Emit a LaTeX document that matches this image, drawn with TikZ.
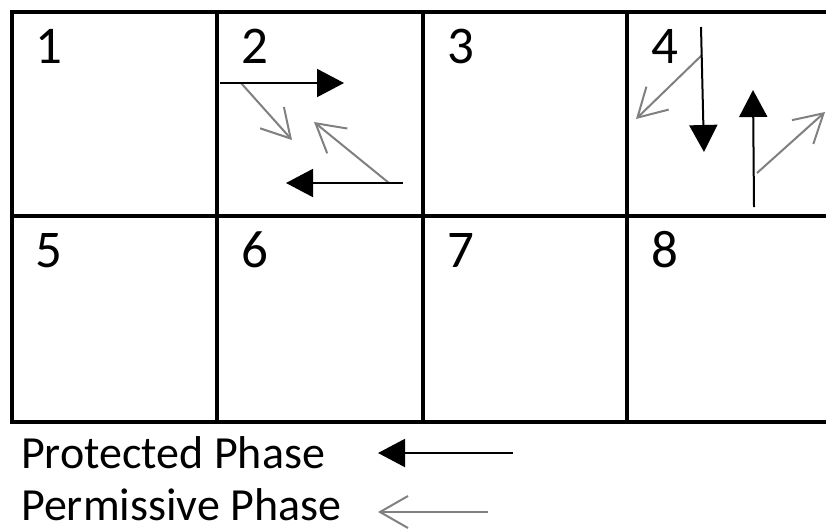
\documentclass[tikz,border=0pt]{standalone}
\usepackage{fontspec}
\setmainfont{Carlito}
\usetikzlibrary{arrows.meta}
\definecolor{permgray}{RGB}{128,128,128}
\tikzset{
  gridline/.style={line width=4pt, line cap=rect},
  protarrow/.style={line width=2pt, black, -{Triangle[length=27pt,width=28pt]}},
  permarrow/.style={line width=2pt, permgray, -{Straight Barb[length=28pt,width=32pt,line width=2pt]}},
  cellnum/.style={anchor=base west, inner sep=0pt, font=\fontsize{53}{53}\selectfont},
  legendtext/.style={anchor=base west, inner sep=0pt, text depth=0pt, font=\fontsize{46}{46}\selectfont},
}
\begin{document}
\begin{tikzpicture}[x=1pt,y=-1pt]
\useasboundingbox (0,0) rectangle (826,528);
\clip (0,0) rectangle (826,528);
\fill[white] (0,0) rectangle (826,528);
% grid
\draw[gridline] (12,12) -- (840,12);
\draw[gridline] (12,216) -- (840,216);
\draw[gridline] (12,422) -- (840,422);
\draw[gridline] (12,12) -- (12,422);
\draw[gridline] (217,12) -- (217,422);
\draw[gridline] (423,12) -- (423,422);
\draw[gridline] (627,12) -- (627,422);
\draw[gridline] (832,12) -- (832,422);
% cell numbers
\node[cellnum] (n1) at (35,63) {1};
\node[cellnum] (n2) at (241,63) {2};
\node[cellnum] (n3) at (447,63) {3};
\node[cellnum] (n4) at (651,63) {4};
\node[cellnum] (n5) at (35,267) {5};
\node[cellnum] (n6) at (241,267) {6};
\node[cellnum] (n7) at (447,267) {7};
\node[cellnum] (n8) at (651,267) {8};
% cell 2 coordinates
\coordinate (a1s) at (220,83);  \coordinate (a1e) at (344,83);
\coordinate (g1s) at (241,83);  \coordinate (g1e) at (292,140);
\coordinate (g2s) at (389,183); \coordinate (g2e) at (314,122);
\coordinate (a2s) at (403,183); \coordinate (a2e) at (286,183);
\draw[permarrow] (g1s) -- (g1e);
\draw[permarrow] (g2s) -- (g2e);
\draw[protarrow] (a1s) -- (a1e);
\draw[protarrow] (a2s) -- (a2e);
% cell 4 coordinates
\coordinate (b1s) at (701,27);  \coordinate (b1e) at (704,152);
\coordinate (h1s) at (702,55);  \coordinate (h1e) at (636,119);
\coordinate (b2s) at (754,207); \coordinate (b2e) at (753,90);
\coordinate (h2s) at (757,173); \coordinate (h2e) at (825,112);
\draw[permarrow] (h1s) -- (h1e);
\draw[permarrow] (h2s) -- (h2e);
\draw[protarrow] (b1s) -- (b1e);
\draw[protarrow] (b2s) -- (b2e);
% legend
\node[legendtext] (lp) at (21,468) {Protected Phase};
\node[legendtext] (lq) at (21,520) {Permissive Phase};
\coordinate (l1s) at (513,453); \coordinate (l1e) at (378,453);
\coordinate (l2s) at (488,512); \coordinate (l2e) at (378,512);
\draw[protarrow] (l1s) -- (l1e);
\draw[permarrow] (l2s) -- (l2e);
\end{tikzpicture}
\end{document}
